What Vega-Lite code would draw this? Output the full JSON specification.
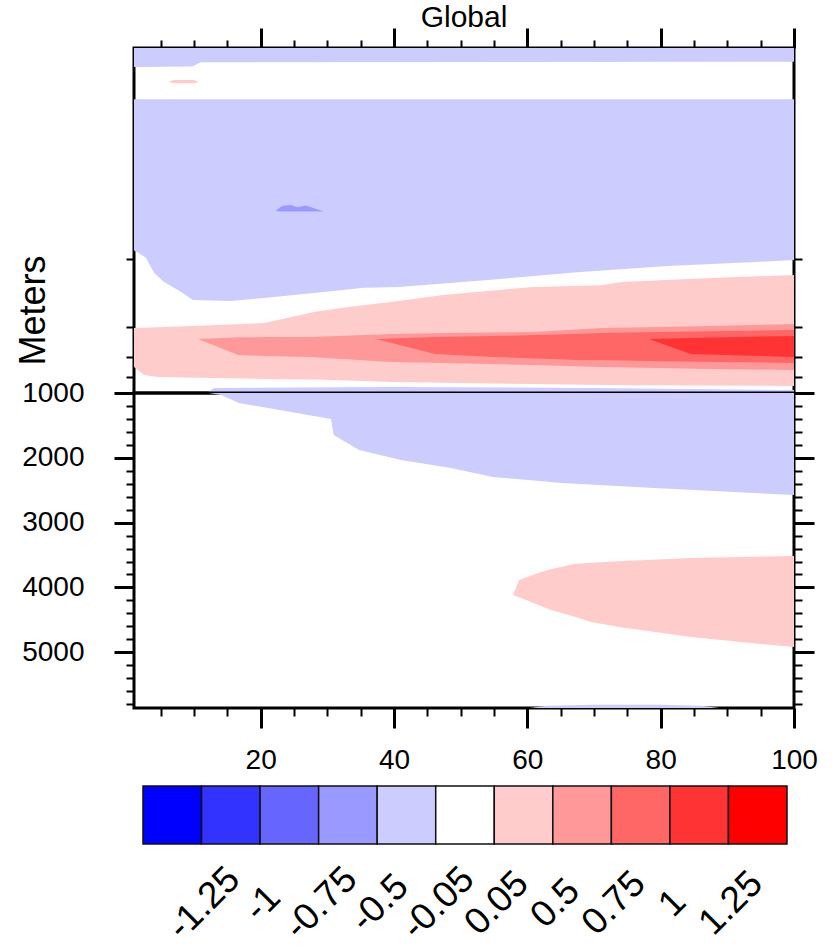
{
  "$schema": "https://vega.github.io/schema/vega-lite/v6.json",
  "background": "white",
  "padding": {"left": 13, "top": 3, "right": 5, "bottom": 0},
  "title": {"text": "Global", "fontSize": 30, "font": "Liberation Sans", "fontWeight": "normal", "color": "black", "anchor": "middle", "frame": "group", "offset": -8},
  "config": {
    "font": "Liberation Sans",
    "view": {"stroke": "black", "strokeWidth": 3},
    "axis": {"labelFont": "Liberation Sans", "labelColor": "black", "tickColor": "black", "domain": false, "grid": false, "titleFont": "Liberation Sans", "titleFontWeight": "normal", "titleColor": "black", "labelFlush": false, "labelOverlap": false}
  },
  "datasets": {
    "t_blue_surface": [
      {"time": 1, "depth_top": 0, "depth_bottom": 3.3, "level": "-0.5 to -0.05"},
      {"time": 9.8, "depth_top": 0, "depth_bottom": 3.2, "level": "-0.5 to -0.05"},
      {"time": 11, "depth_top": 0, "depth_bottom": 2.4, "level": "-0.5 to -0.05"},
      {"time": 100, "depth_top": 0, "depth_bottom": 2.3, "level": "-0.5 to -0.05"}
    ],
    "t_blue_main": [
      {"time": 1, "depth_top": 11.2, "depth_bottom": 150, "level": "-0.5 to -0.05"},
      {"time": 1.45, "depth_top": 11.2, "depth_bottom": 153, "level": "-0.5 to -0.05"},
      {"time": 2.8, "depth_top": 11.2, "depth_bottom": 166, "level": "-0.5 to -0.05"},
      {"time": 4.0, "depth_top": 11.2, "depth_bottom": 204, "level": "-0.5 to -0.05"},
      {"time": 5.5, "depth_top": 11.2, "depth_bottom": 231, "level": "-0.5 to -0.05"},
      {"time": 7.6, "depth_top": 11.2, "depth_bottom": 257, "level": "-0.5 to -0.05"},
      {"time": 9.85, "depth_top": 11.2, "depth_bottom": 294, "level": "-0.5 to -0.05"},
      {"time": 15.5, "depth_top": 11.2, "depth_bottom": 298, "level": "-0.5 to -0.05"},
      {"time": 20.5, "depth_top": 11.2, "depth_bottom": 286, "level": "-0.5 to -0.05"},
      {"time": 28, "depth_top": 11.2, "depth_bottom": 268, "level": "-0.5 to -0.05"},
      {"time": 35.5, "depth_top": 11.2, "depth_bottom": 250, "level": "-0.5 to -0.05"},
      {"time": 40.75, "depth_top": 11.2, "depth_bottom": 247, "level": "-0.5 to -0.05"},
      {"time": 54.1, "depth_top": 11.2, "depth_bottom": 225, "level": "-0.5 to -0.05"},
      {"time": 67.45, "depth_top": 11.2, "depth_bottom": 202, "level": "-0.5 to -0.05"},
      {"time": 81, "depth_top": 11.2, "depth_bottom": 186, "level": "-0.5 to -0.05"},
      {"time": 94.3, "depth_top": 11.2, "depth_bottom": 176, "level": "-0.5 to -0.05"},
      {"time": 100, "depth_top": 11.2, "depth_bottom": 171, "level": "-0.5 to -0.05"}
    ],
    "t_blue_blip": [
      {"time": 22.3, "depth_top": 85, "depth_bottom": 85.6, "level": "-0.75 to -0.5"},
      {"time": 23.2, "depth_top": 79.5, "depth_bottom": 86.2, "level": "-0.75 to -0.5"},
      {"time": 24.5, "depth_top": 78.3, "depth_bottom": 86.2, "level": "-0.75 to -0.5"},
      {"time": 25.5, "depth_top": 81, "depth_bottom": 86.2, "level": "-0.75 to -0.5"},
      {"time": 26.8, "depth_top": 79, "depth_bottom": 86.2, "level": "-0.75 to -0.5"},
      {"time": 28, "depth_top": 82, "depth_bottom": 86.2, "level": "-0.75 to -0.5"},
      {"time": 29.35, "depth_top": 86, "depth_bottom": 86.2, "level": "-0.75 to -0.5"}
    ],
    "t_pink_blip": [
      {"time": 6.25, "depth_top": 6.45, "depth_bottom": 6.6, "level": "0.05 to 0.5"},
      {"time": 7, "depth_top": 6.1, "depth_bottom": 6.9, "level": "0.05 to 0.5"},
      {"time": 10, "depth_top": 6.1, "depth_bottom": 6.9, "level": "0.05 to 0.5"},
      {"time": 10.6, "depth_top": 6.45, "depth_bottom": 6.6, "level": "0.05 to 0.5"}
    ],
    "t_pink": [
      {"time": 1, "depth_top": 427, "depth_bottom": 713, "level": "0.05 to 0.5"},
      {"time": 1.6, "depth_top": 427, "depth_bottom": 741, "level": "0.05 to 0.5"},
      {"time": 2.5, "depth_top": 425, "depth_bottom": 791, "level": "0.05 to 0.5"},
      {"time": 4.6, "depth_top": 423, "depth_bottom": 812, "level": "0.05 to 0.5"},
      {"time": 20.5, "depth_top": 400, "depth_bottom": 833, "level": "0.05 to 0.5"},
      {"time": 22.6, "depth_top": 384, "depth_bottom": 835, "level": "0.05 to 0.5"},
      {"time": 28, "depth_top": 345, "depth_bottom": 840, "level": "0.05 to 0.5"},
      {"time": 33.1, "depth_top": 323, "depth_bottom": 850, "level": "0.05 to 0.5"},
      {"time": 39.55, "depth_top": 302, "depth_bottom": 867, "level": "0.05 to 0.5"},
      {"time": 47.35, "depth_top": 275, "depth_bottom": 875, "level": "0.05 to 0.5"},
      {"time": 60.85, "depth_top": 247, "depth_bottom": 890, "level": "0.05 to 0.5"},
      {"time": 71.05, "depth_top": 241, "depth_bottom": 901, "level": "0.05 to 0.5"},
      {"time": 74.2, "depth_top": 231, "depth_bottom": 903, "level": "0.05 to 0.5"},
      {"time": 87.55, "depth_top": 219, "depth_bottom": 908, "level": "0.05 to 0.5"},
      {"time": 100, "depth_top": 210, "depth_bottom": 913, "level": "0.05 to 0.5"}
    ],
    "t_pink2": [
      {"time": 10.6, "depth_top": 494, "depth_bottom": 494, "level": "0.5 to 0.75"},
      {"time": 16.6, "depth_top": 483, "depth_bottom": 609, "level": "0.5 to 0.75"},
      {"time": 20.5, "depth_top": 481, "depth_bottom": 617, "level": "0.5 to 0.75"},
      {"time": 27.4, "depth_top": 481, "depth_bottom": 625, "level": "0.5 to 0.75"},
      {"time": 39.55, "depth_top": 462, "depth_bottom": 668, "level": "0.5 to 0.75"},
      {"time": 47.35, "depth_top": 456, "depth_bottom": 676, "level": "0.5 to 0.75"},
      {"time": 60.85, "depth_top": 450, "depth_bottom": 694, "level": "0.5 to 0.75"},
      {"time": 71.05, "depth_top": 427, "depth_bottom": 713, "level": "0.5 to 0.75"},
      {"time": 87.55, "depth_top": 416, "depth_bottom": 731, "level": "0.5 to 0.75"},
      {"time": 100, "depth_top": 405, "depth_bottom": 741, "level": "0.5 to 0.75"}
    ],
    "t_red1": [
      {"time": 37.3, "depth_top": 494, "depth_bottom": 494, "level": "0.75 to 1"},
      {"time": 46.15, "depth_top": 481, "depth_bottom": 601, "level": "0.75 to 1"},
      {"time": 55, "depth_top": 475, "depth_bottom": 625, "level": "0.75 to 1"},
      {"time": 67.45, "depth_top": 462, "depth_bottom": 650, "level": "0.75 to 1"},
      {"time": 71.05, "depth_top": 456, "depth_bottom": 650, "level": "0.75 to 1"},
      {"time": 80, "depth_top": 450, "depth_bottom": 660, "level": "0.75 to 1"},
      {"time": 100, "depth_top": 438, "depth_bottom": 676, "level": "0.75 to 1"}
    ],
    "t_red2": [
      {"time": 78.25, "depth_top": 494, "depth_bottom": 494, "level": "1 to 1.25"},
      {"time": 84.5, "depth_top": 487, "depth_bottom": 601, "level": "1 to 1.25"},
      {"time": 92, "depth_top": 480, "depth_bottom": 612, "level": "1 to 1.25"},
      {"time": 100, "depth_top": 474, "depth_bottom": 625, "level": "1 to 1.25"}
    ],
    "t_blue_strip": [
      {"time": 12.1, "depth_top": 990, "depth_bottom": 1000, "level": "-0.5 to -0.05"},
      {"time": 13, "depth_top": 937, "depth_bottom": 1000, "level": "-0.5 to -0.05"},
      {"time": 40, "depth_top": 925, "depth_bottom": 1000, "level": "-0.5 to -0.05"},
      {"time": 70, "depth_top": 937, "depth_bottom": 1000, "level": "-0.5 to -0.05"},
      {"time": 100, "depth_top": 962, "depth_bottom": 1000, "level": "-0.5 to -0.05"}
    ],
    "b_blue": [
      {"time": 12.2, "depth_top": 1000, "depth_bottom": 1000, "level": "-0.5 to -0.05"},
      {"time": 14.05, "depth_top": 1000, "depth_bottom": 1031, "level": "-0.5 to -0.05"},
      {"time": 16.75, "depth_top": 1000, "depth_bottom": 1154, "level": "-0.5 to -0.05"},
      {"time": 30.55, "depth_top": 1000, "depth_bottom": 1401, "level": "-0.5 to -0.05"},
      {"time": 30.95, "depth_top": 1000, "depth_bottom": 1648, "level": "-0.5 to -0.05"},
      {"time": 34.75, "depth_top": 1000, "depth_bottom": 1880, "level": "-0.5 to -0.05"},
      {"time": 41.05, "depth_top": 1000, "depth_bottom": 2034, "level": "-0.5 to -0.05"},
      {"time": 48.55, "depth_top": 1000, "depth_bottom": 2157, "level": "-0.5 to -0.05"},
      {"time": 54.85, "depth_top": 1000, "depth_bottom": 2296, "level": "-0.5 to -0.05"},
      {"time": 65.2, "depth_top": 1000, "depth_bottom": 2389, "level": "-0.5 to -0.05"},
      {"time": 79, "depth_top": 1000, "depth_bottom": 2466, "level": "-0.5 to -0.05"},
      {"time": 100, "depth_top": 1000, "depth_bottom": 2574, "level": "-0.5 to -0.05"}
    ],
    "b_pink": [
      {"time": 57.85, "depth_top": 4117, "depth_bottom": 4117, "level": "0.05 to 0.5"},
      {"time": 58.75, "depth_top": 3885, "depth_bottom": 4153, "level": "0.05 to 0.5"},
      {"time": 62.05, "depth_top": 3762, "depth_bottom": 4285, "level": "0.05 to 0.5"},
      {"time": 63.55, "depth_top": 3720, "depth_bottom": 4348, "level": "0.05 to 0.5"},
      {"time": 67, "depth_top": 3639, "depth_bottom": 4450, "level": "0.05 to 0.5"},
      {"time": 69.55, "depth_top": 3620, "depth_bottom": 4533, "level": "0.05 to 0.5"},
      {"time": 74.5, "depth_top": 3592, "depth_bottom": 4620, "level": "0.05 to 0.5"},
      {"time": 77.05, "depth_top": 3580, "depth_bottom": 4657, "level": "0.05 to 0.5"},
      {"time": 84.55, "depth_top": 3546, "depth_bottom": 4765, "level": "0.05 to 0.5"},
      {"time": 92.05, "depth_top": 3530, "depth_bottom": 4842, "level": "0.05 to 0.5"},
      {"time": 100, "depth_top": 3515, "depth_bottom": 4919, "level": "0.05 to 0.5"}
    ],
    "b_blue_floor": [
      {"time": 60.4, "depth_top": 5860, "depth_bottom": 5860, "level": "-0.5 to -0.05"},
      {"time": 63, "depth_top": 5825, "depth_bottom": 5860, "level": "-0.5 to -0.05"},
      {"time": 70, "depth_top": 5810, "depth_bottom": 5860, "level": "-0.5 to -0.05"},
      {"time": 80, "depth_top": 5810, "depth_bottom": 5860, "level": "-0.5 to -0.05"},
      {"time": 86, "depth_top": 5825, "depth_bottom": 5860, "level": "-0.5 to -0.05"},
      {"time": 88.75, "depth_top": 5860, "depth_bottom": 5860, "level": "-0.5 to -0.05"}
    ],
    "colorbar": [
      {"level": "below -1.25", "upper": "-1.25"},
      {"level": "-1.25 to -1", "upper": "-1"},
      {"level": "-1 to -0.75", "upper": "-0.75"},
      {"level": "-0.75 to -0.5", "upper": "-0.5"},
      {"level": "-0.5 to -0.05", "upper": "-0.05"},
      {"level": "-0.05 to 0.05", "upper": "0.05"},
      {"level": "0.05 to 0.5", "upper": "0.5"},
      {"level": "0.5 to 0.75", "upper": "0.75"},
      {"level": "0.75 to 1", "upper": "1"},
      {"level": "1 to 1.25", "upper": "1.25"},
      {"level": "above 1.25", "upper": " "}
    ]
  },
  "spacing": 9,
  "vconcat": [
    {
      "spacing": 0,
      "bounds": "flush",
      "vconcat": [
        {
          "width": 660,
          "height": 345,
          "resolve": {"axis": {"x": "independent", "y": "independent"}},
          "layer": [
            {
              "data": {"name": "t_blue_surface"},
              "mark": {"type": "area", "interpolate": "linear"},
              "encoding": {
                "x": {"field": "time", "type": "quantitative", "scale": {"domain": [1, 100], "nice": false, "zero": false},
                      "axis": {"orient": "top", "values": [5,10,15,20,25,30,35,40,45,50,55,60,65,70,75,80,85,90,95,100], "labels": false, "title": null,
                               "tickSize": {"condition": {"test": "datum.value % 20 === 0", "value": 20}, "value": 8},
                               "tickWidth": {"condition": {"test": "datum.value % 20 === 0", "value": 3}, "value": 2}}},
                "y": {"field": "depth_top", "type": "quantitative", "scale": {"type": "symlog", "constant": 12, "domain": [0, 1000], "reverse": true, "nice": false, "zero": false},
                      "axis": {"orient": "left", "values": [169, 421, 625, 812], "labels": false, "tickSize": 8, "tickWidth": 2,
                               "title": "Meters", "titleFontSize": 36, "titleAngle": -90, "titleAlign": "center", "titleBaseline": "alphabetic", "titleX": -90, "titleY": 262}},
                "y2": {"field": "depth_bottom"},
                "color": {"field": "level", "type": "nominal",
                          "scale": {"domain": ["below -1.25", "-1.25 to -1", "-1 to -0.75", "-0.75 to -0.5", "-0.5 to -0.05", "-0.05 to 0.05", "0.05 to 0.5", "0.5 to 0.75", "0.75 to 1", "1 to 1.25", "above 1.25"],
                                    "range": ["#0000ff", "#3333ff", "#6666ff", "#9999ff", "#ccccff", "#ffffff", "#ffcccc", "#ff9999", "#ff6666", "#ff3333", "#ff0000"]},
                          "legend": null}
              }
            },
            {
              "data": {"name": "t_blue_main"},
              "mark": {"type": "area", "interpolate": "linear"},
              "encoding": {
                "x": {"field": "time", "type": "quantitative", "axis": null},
                "y": {"field": "depth_top", "type": "quantitative",
                      "axis": {"orient": "right", "values": [169, 421, 625, 812], "labels": false, "tickSize": 8, "tickWidth": 2, "title": null}},
                "y2": {"field": "depth_bottom"},
                "color": {"field": "level", "type": "nominal", "legend": null}
              }
            },
            {
              "data": {"name": "t_blue_blip"},
              "mark": {"type": "area", "interpolate": "linear"},
              "encoding": {
                "x": {"field": "time", "type": "quantitative", "axis": null},
                "y": {"field": "depth_top", "type": "quantitative", "axis": null},
                "y2": {"field": "depth_bottom"},
                "color": {"field": "level", "type": "nominal", "legend": null}
              }
            },
            {
              "data": {"name": "t_pink_blip"},
              "mark": {"type": "area", "interpolate": "linear"},
              "encoding": {
                "x": {"field": "time", "type": "quantitative", "axis": null},
                "y": {"field": "depth_top", "type": "quantitative", "axis": null},
                "y2": {"field": "depth_bottom"},
                "color": {"field": "level", "type": "nominal", "legend": null}
              }
            },
            {
              "data": {"name": "t_pink"},
              "mark": {"type": "area", "interpolate": "linear"},
              "encoding": {
                "x": {"field": "time", "type": "quantitative", "axis": null},
                "y": {"field": "depth_top", "type": "quantitative", "axis": null},
                "y2": {"field": "depth_bottom"},
                "color": {"field": "level", "type": "nominal", "legend": null}
              }
            },
            {
              "data": {"name": "t_pink2"},
              "mark": {"type": "area", "interpolate": "linear"},
              "encoding": {
                "x": {"field": "time", "type": "quantitative", "axis": null},
                "y": {"field": "depth_top", "type": "quantitative", "axis": null},
                "y2": {"field": "depth_bottom"},
                "color": {"field": "level", "type": "nominal", "legend": null}
              }
            },
            {
              "data": {"name": "t_red1"},
              "mark": {"type": "area", "interpolate": "linear"},
              "encoding": {
                "x": {"field": "time", "type": "quantitative", "axis": null},
                "y": {"field": "depth_top", "type": "quantitative", "axis": null},
                "y2": {"field": "depth_bottom"},
                "color": {"field": "level", "type": "nominal", "legend": null}
              }
            },
            {
              "data": {"name": "t_red2"},
              "mark": {"type": "area", "interpolate": "linear"},
              "encoding": {
                "x": {"field": "time", "type": "quantitative", "axis": null},
                "y": {"field": "depth_top", "type": "quantitative", "axis": null},
                "y2": {"field": "depth_bottom"},
                "color": {"field": "level", "type": "nominal", "legend": null}
              }
            },
            {
              "data": {"name": "t_blue_strip"},
              "mark": {"type": "area", "interpolate": "linear"},
              "encoding": {
                "x": {"field": "time", "type": "quantitative", "axis": null},
                "y": {"field": "depth_top", "type": "quantitative", "axis": null},
                "y2": {"field": "depth_bottom"},
                "color": {"field": "level", "type": "nominal", "legend": null}
              }
            }
          ]
        },
        {
          "width": 660,
          "height": 315,
          "resolve": {"axis": {"x": "independent", "y": "independent"}},
          "layer": [
            {
              "data": {"name": "b_blue"},
              "mark": {"type": "area", "interpolate": "linear"},
              "encoding": {
                "x": {"field": "time", "type": "quantitative", "scale": {"domain": [1, 100], "nice": false, "zero": false},
                      "axis": {"orient": "bottom", "values": [5,10,15,20,25,30,35,40,45,50,55,60,65,70,75,80,85,90,95,100], "title": null,
                               "labelExpr": "datum.value % 20 === 0 ? datum.label : ''", "labelFontSize": 28, "labelPadding": 18,
                               "tickSize": {"condition": {"test": "datum.value % 20 === 0", "value": 20}, "value": 8},
                               "tickWidth": {"condition": {"test": "datum.value % 20 === 0", "value": 3}, "value": 2}}},
                "y": {"field": "depth_top", "type": "quantitative", "scale": {"domain": [1000, 5860], "reverse": true, "nice": false, "zero": false},
                      "axis": {"orient": "left", "values": [1000,1200,1400,1600,1800,2000,2200,2400,2600,2800,3000,3200,3400,3600,3800,4000,4200,4400,4600,4800,5000,5200,5400,5600,5800],
                               "format": "d", "labelExpr": "datum.value % 1000 === 0 ? datum.label : ''", "labelFontSize": 28, "labelPadding": 30, "labelBaseline": "middle", "title": null,
                               "tickSize": {"condition": {"test": "datum.value % 1000 === 0", "value": 20}, "value": 8},
                               "tickWidth": {"condition": {"test": "datum.value % 1000 === 0", "value": 3}, "value": 2}}},
                "y2": {"field": "depth_bottom"},
                "color": {"field": "level", "type": "nominal", "legend": null}
              }
            },
            {
              "data": {"name": "b_pink"},
              "mark": {"type": "area", "interpolate": "linear"},
              "encoding": {
                "x": {"field": "time", "type": "quantitative", "axis": null},
                "y": {"field": "depth_top", "type": "quantitative",
                      "axis": {"orient": "right", "values": [1000,1200,1400,1600,1800,2000,2200,2400,2600,2800,3000,3200,3400,3600,3800,4000,4200,4400,4600,4800,5000,5200,5400,5600,5800],
                               "labels": false, "title": null,
                               "tickSize": {"condition": {"test": "datum.value % 1000 === 0", "value": 20}, "value": 8},
                               "tickWidth": {"condition": {"test": "datum.value % 1000 === 0", "value": 3}, "value": 2}}},
                "y2": {"field": "depth_bottom"},
                "color": {"field": "level", "type": "nominal", "legend": null}
              }
            },
            {
              "data": {"name": "b_blue_floor"},
              "mark": {"type": "area", "interpolate": "linear"},
              "encoding": {
                "x": {"field": "time", "type": "quantitative", "axis": null},
                "y": {"field": "depth_top", "type": "quantitative", "axis": null},
                "y2": {"field": "depth_bottom"},
                "color": {"field": "level", "type": "nominal", "legend": null}
              }
            }
          ]
        }
      ]
    },
    {
      "width": 660,
      "height": 58,
      "view": {"stroke": null},
      "data": {"name": "colorbar"},
      "mark": {"type": "rect", "stroke": "#111111", "strokeWidth": 1.5},
      "encoding": {
        "x": {"field": "upper", "type": "ordinal", "sort": null,
              "scale": {"paddingInner": 0, "paddingOuter": 0.1366, "align": 0.5625},
              "axis": {"orient": "bottom", "ticks": false, "tickSize": 0, "domain": false, "title": null,
                       "labelAngle": -45, "labelAlign": "center", "labelBaseline": "middle", "labelPadding": 59, "labelOffset": 32, "labelFontSize": 37}},
        "color": {"field": "level", "type": "nominal", "legend": null}
      }
    }
  ]
}
